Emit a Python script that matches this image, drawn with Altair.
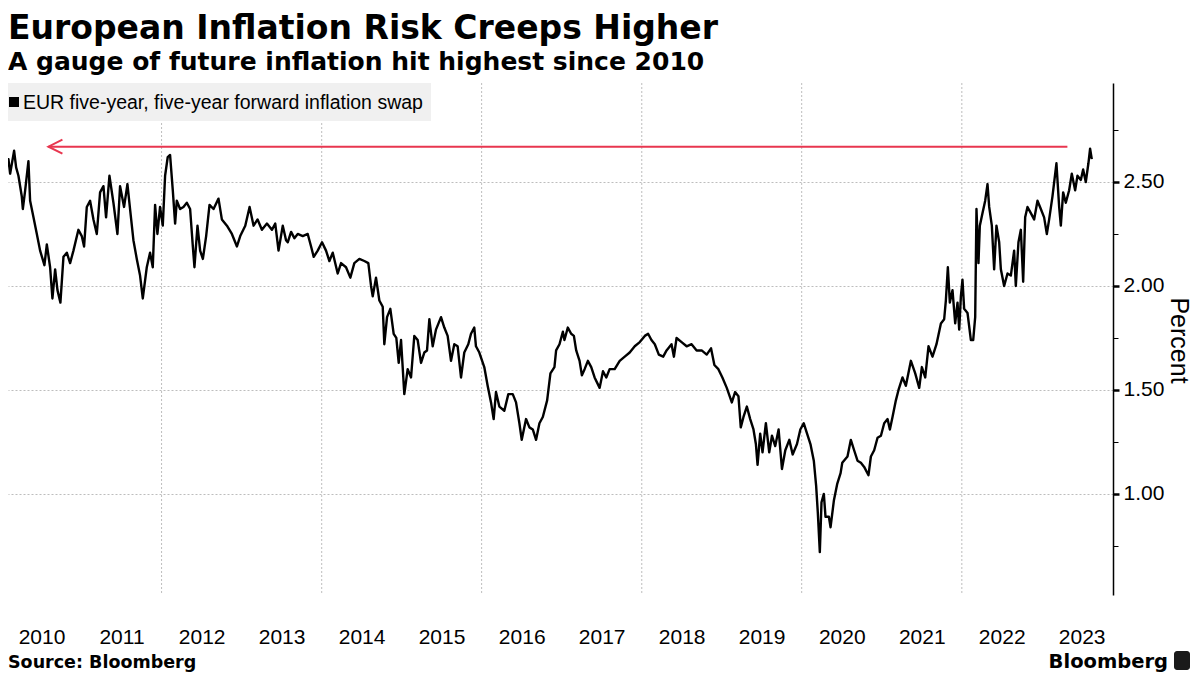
import altair as alt
import pandas as pd

title_text = "European Inflation Risk Creeps Higher"
subtitle_text = "A gauge of future inflation hit highest since 2010"
source_text = "Source: Bloomberg"
brand_text = "Bloomberg"
series_name = "EUR five-year, five-year forward inflation swap"
y_title = "Percent"

# Decimal years of the traced points
year_fraction = [
    2010.002, 2010.023, 2010.044, 2010.056, 2010.085, 2010.106, 2010.156, 2010.181, 2010.210, 2010.252,
    2010.265, 2010.294, 2010.335, 2010.356, 2010.398, 2010.440, 2010.481, 2010.535, 2010.565, 2010.606,
    2010.635, 2010.669, 2010.698, 2010.735, 2010.773, 2010.815, 2010.856, 2010.898, 2010.960, 2011.002,
    2011.031, 2011.065, 2011.106, 2011.148, 2011.190, 2011.231, 2011.273, 2011.306, 2011.348, 2011.398,
    2011.448, 2011.481, 2011.531, 2011.573, 2011.606, 2011.648, 2011.690, 2011.731, 2011.765, 2011.815,
    2011.856, 2011.890, 2011.919, 2011.948, 2011.981, 2012.015, 2012.044, 2012.077, 2012.106, 2012.140,
    2012.169, 2012.190, 2012.231, 2012.273, 2012.315, 2012.356, 2012.390, 2012.410, 2012.448, 2012.481,
    2012.515, 2012.556, 2012.598, 2012.648, 2012.710, 2012.752, 2012.815, 2012.877, 2012.940, 2012.981,
    2013.044, 2013.098, 2013.148, 2013.198, 2013.252, 2013.315, 2013.377, 2013.419, 2013.460,
    2013.513, 2013.554, 2013.575, 2013.617, 2013.658, 2013.700, 2013.763, 2013.825, 2013.867, 2013.900,
    2013.950, 2014.004, 2014.054, 2014.096, 2014.138, 2014.200, 2014.242, 2014.304, 2014.358, 2014.408,
    2014.471, 2014.533, 2014.583, 2014.617, 2014.638, 2014.679, 2014.721, 2014.763, 2014.783, 2014.817,
    2014.858, 2014.900, 2014.933, 2014.963, 2014.992, 2015.033, 2015.075, 2015.117, 2015.158, 2015.200,
    2015.242, 2015.283, 2015.317, 2015.346, 2015.388, 2015.429, 2015.492, 2015.533, 2015.575, 2015.617,
    2015.658, 2015.700, 2015.742, 2015.783, 2015.833, 2015.867, 2015.908, 2015.929, 2015.971, 2016.033,
    2016.075, 2016.117, 2016.150, 2016.179, 2016.221, 2016.283, 2016.333, 2016.388, 2016.429, 2016.471,
    2016.500, 2016.554, 2016.596, 2016.638, 2016.679, 2016.721, 2016.763, 2016.817, 2016.858,
    2016.908, 2016.929, 2016.971, 2017.013, 2017.033, 2017.075, 2017.117, 2017.151, 2017.180, 2017.222,
    2017.251, 2017.285, 2017.326, 2017.368, 2017.410, 2017.473, 2017.515, 2017.556, 2017.598, 2017.661,
    2017.724, 2017.787, 2017.849, 2017.912, 2017.975, 2018.038, 2018.079, 2018.121, 2018.163, 2018.213,
    2018.268, 2018.310, 2018.372, 2018.402, 2018.435, 2018.498, 2018.561, 2018.623, 2018.686, 2018.749,
    2018.812, 2018.866, 2018.908, 2018.958, 2019.008, 2019.063, 2019.126, 2019.167, 2019.209, 2019.238,
    2019.272, 2019.314, 2019.356, 2019.397, 2019.427, 2019.448, 2019.481, 2019.510, 2019.552, 2019.594,
    2019.628, 2019.669, 2019.711, 2019.753, 2019.795, 2019.845, 2019.887, 2019.941, 2019.983, 2020.025,
    2020.067, 2020.109, 2020.151, 2020.180, 2020.201, 2020.226, 2020.247, 2020.276, 2020.297, 2020.339,
    2020.360, 2020.402, 2020.444, 2020.485, 2020.506,
    2020.571, 2020.613, 2020.654, 2020.696, 2020.738, 2020.779, 2020.833, 2020.863, 2020.904, 2020.946,
    2020.988, 2021.029, 2021.071, 2021.100, 2021.133, 2021.175, 2021.208, 2021.258, 2021.300, 2021.363,
    2021.417, 2021.467, 2021.500, 2021.542, 2021.583, 2021.633, 2021.683, 2021.738, 2021.779, 2021.800,
    2021.825, 2021.850, 2021.883, 2021.917, 2021.946, 2021.967, 2021.988, 2022.008, 2022.029, 2022.071,
    2022.113, 2022.142, 2022.167, 2022.183, 2022.208, 2022.225, 2022.258, 2022.292, 2022.321, 2022.342,
    2022.375, 2022.404, 2022.433, 2022.467, 2022.488, 2022.529, 2022.571, 2022.613, 2022.654, 2022.675,
    2022.708, 2022.738, 2022.767, 2022.792, 2022.821, 2022.863, 2022.904, 2022.946, 2022.988, 2023.029,
    2023.063, 2023.092, 2023.133, 2023.183, 2023.217, 2023.238, 2023.267, 2023.300, 2023.342, 2023.375,
    2023.417, 2023.446, 2023.488, 2023.517, 2023.550, 2023.583, 2023.604, 2023.625,
]

# EUR 5y5y forward inflation swap, percent
swap_percent = [
    2.78, 2.73, 2.64, 2.56, 2.61, 2.54, 2.65, 2.57, 2.53, 2.43,
    2.37, 2.46, 2.60, 2.41, 2.33, 2.25, 2.17, 2.10, 2.20, 2.09,
    1.94, 2.08, 1.98, 1.92, 2.14, 2.16, 2.11, 2.17, 2.27, 2.24,
    2.19, 2.38, 2.41, 2.32, 2.25, 2.45, 2.48, 2.33, 2.53, 2.40,
    2.25, 2.48, 2.38, 2.49, 2.37, 2.22, 2.13, 2.05, 1.94, 2.09,
    2.16, 2.09, 2.39, 2.25, 2.38, 2.29, 2.53, 2.62, 2.63, 2.46,
    2.30, 2.41, 2.37, 2.38, 2.40, 2.37, 2.19, 2.09, 2.29, 2.17,
    2.13, 2.24, 2.39, 2.37, 2.42, 2.32, 2.29, 2.25, 2.19, 2.24,
    2.29, 2.38, 2.29, 2.32, 2.27, 2.30, 2.27, 2.30, 2.17,
    2.29, 2.22, 2.21, 2.26, 2.23, 2.25, 2.24, 2.25, 2.19, 2.14,
    2.17, 2.21, 2.17, 2.12, 2.16, 2.06, 2.11, 2.09, 2.04, 2.11,
    2.13, 2.12, 2.11, 2.00, 1.95, 2.04, 1.93, 1.90, 1.72, 1.85,
    1.89, 1.77, 1.75, 1.63, 1.74, 1.48, 1.60, 1.56, 1.76, 1.74,
    1.63, 1.68, 1.69, 1.84, 1.71, 1.79, 1.85, 1.80, 1.76, 1.64,
    1.72, 1.71, 1.56, 1.68, 1.72, 1.77, 1.80, 1.71, 1.68, 1.61,
    1.52, 1.44, 1.36, 1.49, 1.42, 1.40, 1.48, 1.48, 1.44, 1.34,
    1.26, 1.36, 1.32, 1.31, 1.26, 1.34, 1.37, 1.45, 1.58,
    1.61, 1.69, 1.72, 1.78, 1.74, 1.80, 1.77, 1.76, 1.69, 1.64,
    1.57, 1.60, 1.64, 1.61, 1.56, 1.51, 1.59, 1.56, 1.60, 1.60,
    1.64, 1.66, 1.68, 1.71, 1.73, 1.76, 1.77, 1.74, 1.72, 1.67,
    1.66, 1.69, 1.72, 1.66, 1.75, 1.73, 1.71, 1.72, 1.69, 1.69,
    1.67, 1.70, 1.62, 1.60, 1.56, 1.51, 1.44, 1.49, 1.47, 1.32,
    1.37, 1.42, 1.36, 1.31, 1.24, 1.14, 1.29, 1.20, 1.34, 1.20,
    1.28, 1.23, 1.31, 1.12, 1.21, 1.26, 1.19, 1.24, 1.31, 1.34,
    1.29, 1.24, 1.16, 1.04, 0.91, 0.72, 0.96, 1.00, 0.89, 0.89,
    0.84, 0.97, 1.05, 1.10, 1.15,
    1.18, 1.26, 1.21, 1.16, 1.15, 1.13, 1.09, 1.18, 1.21, 1.27,
    1.28, 1.34, 1.36, 1.31, 1.37, 1.45, 1.50, 1.56, 1.52, 1.64,
    1.58, 1.51, 1.61, 1.56, 1.71, 1.66, 1.72, 1.82, 1.84, 1.93,
    2.09, 1.92, 1.98, 1.82, 1.92, 1.79, 1.95, 2.03, 1.89, 1.87,
    1.74, 1.74, 1.85, 2.37, 2.11, 2.29, 2.35, 2.41, 2.49, 2.38,
    2.29, 2.08, 2.29, 2.21, 2.08, 2.00, 2.06, 2.05, 2.17, 2.00,
    2.21, 2.27, 2.02, 2.33, 2.38, 2.35, 2.32, 2.41, 2.37, 2.33,
    2.25, 2.32, 2.43, 2.59, 2.38, 2.29, 2.45, 2.40, 2.46, 2.54,
    2.46, 2.53, 2.51, 2.56, 2.50, 2.59, 2.66, 2.61,
]

label_years = list(range(2010, 2024))
grid_years = [2012, 2014, 2016, 2018, 2020, 2022]
y_tick_values = [0.75, 1.0, 1.25, 1.5, 1.75, 2.0, 2.25, 2.5, 2.75]

arrow_level = 2.67
arrow_from = 2010.585
arrow_to = 2023.32


def to_date(y):
    yr = int(y)
    start = pd.Timestamp(yr, 1, 1)
    end = pd.Timestamp(yr + 1, 1, 1)
    return (start + (end - start) * (y - yr)).strftime("%Y-%m-%dT%H:%M:%S")


line_df = pd.DataFrame({
    "date": [to_date(y) for y in year_fraction],
    "value": swap_percent,
    "series": series_name,
})
grid_df = pd.DataFrame({"date": [f"{y}-01-01T00:00:00" for y in grid_years]})
arrow_df = pd.DataFrame({"start": [to_date(arrow_from)], "end": [to_date(arrow_to)], "level": [arrow_level]})

REG = "Liberation Sans"
BOLD = "DejaVu Sans"
RED = "#e8364f"

x_scale = alt.Scale(domain=[alt.DateTime(year=2010, month=1, date=30),
                            alt.DateTime(year=2023, month=11, date=22)])
y_scale = alt.Scale(domain=[0.514, 2.976], nice=False, zero=False)

x_axis = alt.Axis(
    values=[alt.DateTime(year=y, month=7, date=2) for y in label_years],
    format="%Y", grid=False, domain=False, ticks=False, title=None,
    labelFont=REG, labelFontSize=21, labelColor="black",
    labelBaseline="alphabetic", labelPadding=48,
    labelFlush=False, labelOverlap=False,
)
major = "datum.value % 0.5 == 0"
y_axis = alt.Axis(
    orient="right", values=y_tick_values, title=y_title,
    labelExpr=f"{major} ? format(datum.value, '.2f') : ''",
    labelFont=REG, labelFontSize=21, labelColor="black", labelPadding=4,
    grid=True, gridColor="#bdbdbd", gridDash=[2, 2], gridWidth=1,
    gridOpacity={"condition": {"test": major, "value": 1}, "value": 0},
    tickColor="black",
    tickSize={"condition": {"test": major, "value": 6}, "value": 5},
    tickWidth={"condition": {"test": major, "value": 2.5}, "value": 1},
    domainColor="black", domainWidth=1.5,
    titleFont=REG, titleFontSize=25, titleFontWeight="normal", titleColor="black",
    titleAngle=90, titleAlign="center", titleBaseline="middle",
    titleX=65, titleY=257,
)

grid = alt.Chart(grid_df).mark_rule(color="#bdbdbd", strokeWidth=1, strokeDash=[2, 2]).encode(
    x=alt.X("date:T", scale=x_scale, axis=x_axis)
)

line = alt.Chart(line_df).mark_line(
    color="black", strokeWidth=2.4, clip=True, strokeJoin="round"
).encode(
    x=alt.X("date:T", scale=x_scale, axis=x_axis),
    y=alt.Y("value:Q", scale=y_scale, axis=y_axis),
    detail="series:N",
)

arrow_line = alt.Chart(arrow_df).mark_rule(color=RED, strokeWidth=2).encode(
    x=alt.X("start:T", scale=x_scale, axis=x_axis),
    x2="end:T",
    y=alt.Y("level:Q", scale=y_scale, axis=y_axis),
)
arrow_head = alt.Chart(arrow_df).mark_point(
    shape="M2,-1L0,0L2,1", filled=False, color=RED, strokeWidth=2, size=196, opacity=1
).encode(
    x=alt.X("start:T", scale=x_scale, axis=x_axis),
    y=alt.Y("level:Q", scale=y_scale, axis=y_axis),
)


def text_layer(txt, x, y, size, weight, font, align="left"):
    return alt.Chart(alt.Data(values=[{"t": txt}])).mark_text(
        align=align, baseline="alphabetic", font=font, fontSize=size,
        fontWeight=weight, color="black"
    ).encode(x=alt.value(x), y=alt.value(y), text="t:N")


def box_layer(x, x2, y, y2, color, radius=0):
    return alt.Chart(alt.Data(values=[{"k": 1}])).mark_rect(color=color, cornerRadius=radius).encode(
        x=alt.value(x), x2=alt.value(x2), y=alt.value(y), y2=alt.value(y2)
    )


# legend key (grey box, black square, series name)
legend_bg = box_layer(0, 423, 0, 38, "#f0f0f0")
legend_key = box_layer(1, 11, 14, 24, "black")
legend_txt = text_layer(series_name, 15, 26, 19.5, "normal", REG)

title_l = text_layer(title_text, 0, -44.5, 33, "bold", BOLD)
subtitle_l = text_layer(subtitle_text, 0, -13, 25, "bold", BOLD)
source_l = text_layer(source_text, 0, 585, 17.5, "bold", BOLD)
brand_l = text_layer(brand_text, 1160, 585, 19.5, "bold", BOLD, align="right")
icon_l = box_layer(1166, 1182, 568, 587, "#1a1a1a", 3)

chart = alt.layer(
    grid, line, arrow_line, arrow_head, legend_bg, legend_key, legend_txt,
    title_l, subtitle_l, source_l, brand_l, icon_l
).properties(
    width=1105, height=512,
    padding={"left": 0, "top": 75, "right": 79, "bottom": 80},
    autosize=alt.AutoSizeParams(type="none"),
    background="white",
).configure_view(strokeWidth=0)

chart.save("out.html", embed_options={"renderer": "svg", "actions": False})
